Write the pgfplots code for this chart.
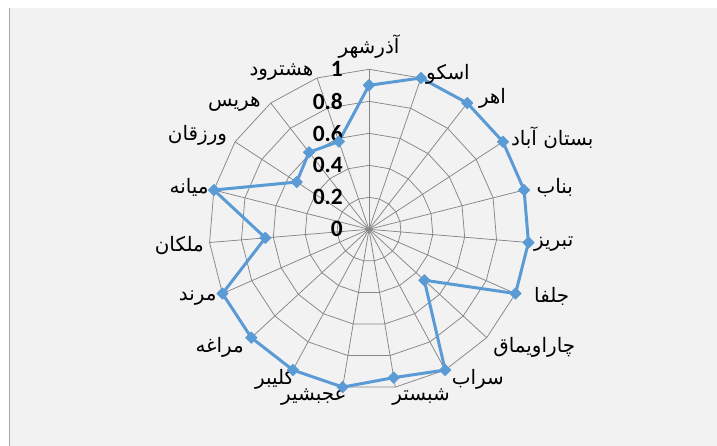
\documentclass[border=0pt]{standalone}
\usepackage{pgfplots}
\pgfplotsset{compat=1.18}
\usepackage{pgfplotstable}
\usepackage{fontspec}
\setmainfont{Carlito}[BoldFont={Carlito Bold}]
\newfontfamily\arabicfont[Script=Arabic]{DejaVu Sans}
\TeXXeTstate=1
\definecolor{bgc}{HTML}{F2F2F2}
\definecolor{gridc}{HTML}{868686}
\definecolor{linec}{HTML}{5B9BD5}
\tikzset{ticklab/.style={anchor=east, inner sep=0pt}}
\newcommand{\tl}[1]{{\fontsize{23.5}{25}\selectfont\bfseries #1}}

\pgfplotstableread{
i v
0 0.90
1 1.00
2 1.00
3 1.00
4 1.00
5 1.00
6 1.00
7 0.47
8 1.00
9 0.94
10 1.00
11 1.00
12 1.00
13 1.00
14 0.65
15 1.00
16 0.54
17 0.61
18 0.58
19 0.90
}\data

\newcommand{\ar}[1]{{\arabicfont\fontsize{20}{22}\selectfont\beginR #1\endR}}

\begin{document}
\begin{tikzpicture}
\useasboundingbox (0,0) rectangle (717bp,446bp);
\fill[white] (0,0) rectangle (717bp,446bp);
\fill[bgc] (9bp,0) rectangle (717bp,438bp);
\draw[gray!70, line width=1.2bp] (9.6bp,0) -- (9.6bp,438bp);
\begin{axis}[
  hide axis, x=160bp, y=160bp,
  xmin=-1, xmax=1, ymin=-1, ymax=1,
  clip=false, at={(369bp,216.7bp)}, anchor=origin,
]
\pgfplotsinvokeforeach{0.2,0.4,0.6,0.8,1.0}{
  \addplot[gridc, line width=0.75bp, domain=0:19, samples=20, mark=none] ({#1*sin(x*360/19)},{#1*cos(x*360/19)});
}
\pgfplotsinvokeforeach{0,...,18}{
  \draw[gridc, line width=0.75bp] (axis cs:0,0) -- (axis cs:{sin(#1*360/19)},{cos(#1*360/19)});
}
\addplot[linec, line width=3bp, line join=round, mark=square*, mark size=4.1bp, mark options={rotate=45, line width=0.5bp}]
  table[x expr={\thisrow{v}*sin(\thisrow{i}*360/19)}, y expr={\thisrow{v}*cos(\thisrow{i}*360/19)}] {\data};

\node[ticklab] at (axis cs:-0.1625,0) {\tl{0}};
\node[ticklab] at (axis cs:-0.1625,0.2) {\tl{0.2}};
\node[ticklab] at (axis cs:-0.1625,0.4) {\tl{0.4}};
\node[ticklab] at (axis cs:-0.1625,0.6) {\tl{0.6}};
\node[ticklab] at (axis cs:-0.1625,0.8) {\tl{0.8}};
\node[ticklab] at (axis cs:-0.1625,1) {\tl{1}};
\node[anchor=center] at (axis cs:0,1.14) {\ar{آذرشهر}};
\node[anchor=west, inner sep=1pt] at (axis cs:0.35,0.97) {\ar{اسکو}};
\node[anchor=west, inner sep=1pt] at (axis cs:0.68,0.82) {\ar{اهر}};
\node[anchor=west, inner sep=1pt] at (axis cs:0.88,0.575) {\ar{بستان آباد}};
\node[anchor=west, inner sep=1pt] at (axis cs:1.04,0.26) {\ar{بناب}};
\node[anchor=west, inner sep=1pt] at (axis cs:1.025,-0.09) {\ar{تبریز}};
\node[anchor=west, inner sep=1pt] at (axis cs:1.025,-0.42) {\ar{جلفا}};
\node[anchor=west, inner sep=1pt] at (axis cs:0.77,-0.74) {\ar{چاراویماق}};
\node[anchor=west, inner sep=1pt] at (axis cs:0.51,-0.935) {\ar{سراب}};
\node[anchor=center] at (axis cs:0.325,-1.05) {\ar{شبستر}};
\node[anchor=center] at (axis cs:-0.345,-1.05) {\ar{عجبشیر}};
\node[anchor=east, inner sep=1pt] at (axis cs:-0.46,-0.94) {\ar{کلیبر}};
\node[anchor=east, inner sep=1pt] at (axis cs:-0.775,-0.735) {\ar{مراغه}};
\node[anchor=east, inner sep=1pt] at (axis cs:-0.945,-0.43) {\ar{مرند}};
\node[anchor=east, inner sep=1pt] at (axis cs:-1.025,-0.1) {\ar{ملکان}};
\node[anchor=east, inner sep=1pt] at (axis cs:-0.995,0.26) {\ar{میانه}};
\node[anchor=east, inner sep=1pt] at (axis cs:-0.88,0.59) {\ar{ورزقان}};
\node[anchor=east, inner sep=1pt] at (axis cs:-0.67,0.78) {\ar{هریس}};
\node[anchor=east, inner sep=1pt] at (axis cs:-0.34,0.98) {\ar{هشترود}};
\end{axis}
\end{tikzpicture}
\end{document}
